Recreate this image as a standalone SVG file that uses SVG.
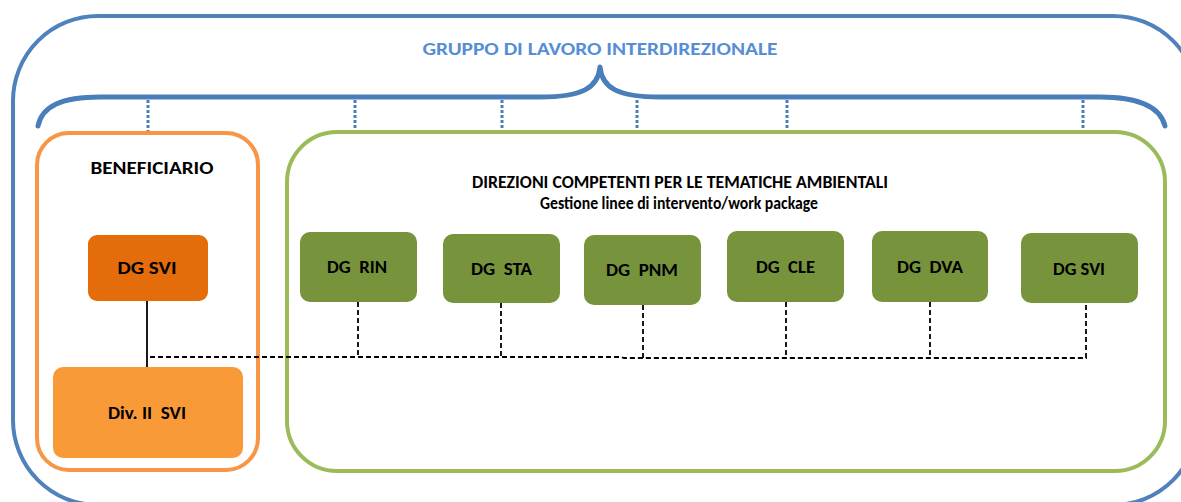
<svg xmlns="http://www.w3.org/2000/svg" width="1181" height="502" viewBox="0 0 1181 502">
  <style>
    .t { font-family: Carlito, Lato, "Liberation Sans", sans-serif; font-weight: bold; text-anchor: middle; fill: #000; }
    .box { font-size: 17.5px; }
    .tick { stroke: #4A7EBB; stroke-width: 3; stroke-dasharray: 3 2; fill: none; }
    .dash { stroke: #000; stroke-width: 1.8; stroke-dasharray: 5 3; fill: none; }
    .green { fill: #77933C; }
  </style>
  <rect width="1181" height="502" fill="#fff"/>

  <g id="gruppo">
    <rect x="13" y="16" width="1185" height="489" rx="85" ry="85" fill="none" stroke="#4F81BD" stroke-width="4"/>
    <text class="t" x="600" y="55" font-size="18.5" style="fill:#558ED5" textLength="355" lengthAdjust="spacingAndGlyphs">GRUPPO DI LAVORO INTERDIREZIONALE</text>
    <path d="M 38,126 C 42,106 62,97 100,97 L 540,97 C 582,97 598,88 600,67 C 602,88 618,97 660,97 L 1100,97 C 1138,97 1160,106 1165,126" fill="none" stroke="#4A7EBB" stroke-width="5" stroke-linecap="round" stroke-linejoin="round"/>
    <line class="tick" x1="148" y1="100" x2="148" y2="131"/>
    <line class="tick" x1="355" y1="100" x2="355" y2="131"/>
    <line class="tick" x1="502" y1="100" x2="502" y2="131"/>
    <line class="tick" x1="637" y1="100" x2="637" y2="131"/>
    <line class="tick" x1="787" y1="100" x2="787" y2="131"/>
    <line class="tick" x1="1083" y1="100" x2="1083" y2="131"/>
  </g>

  <g id="beneficiario">
    <rect x="37" y="133" width="221" height="337" rx="32" ry="32" fill="none" stroke="#F79646" stroke-width="4"/>
    <text class="t" x="152" y="174" font-size="17" textLength="123" lengthAdjust="spacingAndGlyphs">BENEFICIARIO</text>
  </g>

  <g id="direzioni">
    <rect x="287" y="132" width="878" height="339" rx="50" ry="50" fill="none" stroke="#9BBB59" stroke-width="4"/>
    <text class="t" x="680" y="188" font-size="17.5" textLength="416" lengthAdjust="spacingAndGlyphs">DIREZIONI COMPETENTI PER LE TEMATICHE AMBIENTALI</text>
    <text class="t" x="679" y="209" font-size="17.5" textLength="278" lengthAdjust="spacingAndGlyphs">Gestione linee di intervento/work package</text>
  </g>

  <g id="connectors">
    <line x1="147" y1="301" x2="147" y2="367" stroke="#000" stroke-width="1.8"/>
    <path class="dash" d="M 150,357 L 620,357 L 624,358 L 1086,358 L 1086,303"/>
    <line class="dash" x1="358" y1="302" x2="358" y2="357"/>
    <line class="dash" x1="501" y1="303" x2="501" y2="357"/>
    <line class="dash" x1="643" y1="305" x2="643" y2="358"/>
    <line class="dash" x1="786" y1="302" x2="786" y2="358"/>
    <line class="dash" x1="930" y1="302" x2="930" y2="358"/>
  </g>

  <g id="dg-svi-beneficiario">
    <rect x="88" y="235" width="120" height="66" rx="9" ry="9" fill="#E46C0A"/>
    <text class="t box" x="147" y="274" textLength="59" lengthAdjust="spacingAndGlyphs">DG SVI</text>
  </g>

  <g id="div-ii-svi">
    <rect x="53" y="367" width="190" height="91" rx="10" ry="10" fill="#F99A38"/>
    <text class="t box" x="147" y="419" xml:space="preserve" textLength="78" lengthAdjust="spacingAndGlyphs">Div. II  SVI</text>
  </g>

  <g id="dg-rin">
    <rect class="green" x="300" y="232" width="117" height="70" rx="10" ry="10"/>
    <text class="t box" x="357" y="273" xml:space="preserve" textLength="60" lengthAdjust="spacingAndGlyphs">DG  RIN</text>
  </g>
  <g id="dg-sta">
    <rect class="green" x="443" y="234" width="117" height="69" rx="10" ry="10"/>
    <text class="t box" x="501.5" y="275" xml:space="preserve" textLength="61" lengthAdjust="spacingAndGlyphs">DG  STA</text>
  </g>
  <g id="dg-pnm">
    <rect class="green" x="584" y="235" width="117" height="70" rx="10" ry="10"/>
    <text class="t box" x="642" y="276" xml:space="preserve" textLength="72" lengthAdjust="spacingAndGlyphs">DG  PNM</text>
  </g>
  <g id="dg-cle">
    <rect class="green" x="727" y="231" width="117" height="71" rx="10" ry="10"/>
    <text class="t box" x="785.5" y="273" xml:space="preserve" textLength="59" lengthAdjust="spacingAndGlyphs">DG  CLE</text>
  </g>
  <g id="dg-dva">
    <rect class="green" x="872" y="231" width="116" height="71" rx="10" ry="10"/>
    <text class="t box" x="930" y="273" xml:space="preserve" textLength="66" lengthAdjust="spacingAndGlyphs">DG  DVA</text>
  </g>
  <g id="dg-svi">
    <rect class="green" x="1021" y="233" width="117" height="70" rx="10" ry="10"/>
    <text class="t box" x="1079" y="275" textLength="52" lengthAdjust="spacingAndGlyphs">DG SVI</text>
  </g>
</svg>
